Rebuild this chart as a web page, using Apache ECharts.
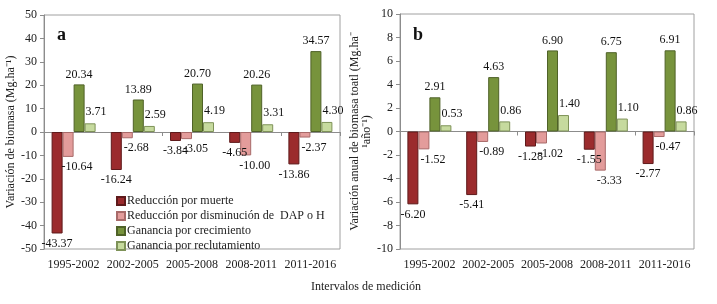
<!DOCTYPE html>
<html>
<head>
<meta charset="utf-8">
<script src="https://cdn.jsdelivr.net/npm/echarts@6/dist/echarts.min.js"></script>
<style>html,body{margin:0;padding:0;background:#fff;}#c{width:717px;height:304px;}</style>
</head>
<body>
<div id="c"></div>
<script>
var categories = ['1995-2002', '2002-2005', '2005-2008', '2008-2011', '2011-2016'];
var seriesNames = ['Reducción por muerte', 'Reducción por disminución de  DAP o H', 'Ganancia por crecimiento', 'Ganancia por reclutamiento'];
// Panel a: Variación de biomasa (Mg.ha-1)
var aMuerte = [-43.37, -16.24, -3.84, -4.65, -13.86];
var aDisminucion = [-10.64, -2.68, -3.05, -10.00, -2.37];
var aCrecimiento = [20.34, 13.89, 20.70, 20.26, 34.57];
var aReclutamiento = [3.71, 2.59, 4.19, 3.31, 4.30];
// Panel b: Variación anual de biomasa total (Mg.ha-1 año-1)
var bMuerte = [-6.20, -5.41, -1.28, -1.55, -2.77];
var bDisminucion = [-1.52, -0.89, -1.02, -3.33, -0.47];
var bCrecimiento = [2.91, 4.63, 6.90, 6.75, 6.91];
var bReclutamiento = [0.53, 0.86, 1.40, 1.10, 0.86];

var FONT = 'Liberation Serif';
var colors = ['#9B2B2D', '#E39C9B', '#77933C', '#C6DA9E'];
var borders = ['#5E1A1B', '#A86A69', '#4F6228', '#7E9258'];
var labelCfg = [
  {position: 'bottom', offset: [0, 0]},
  {position: 'bottom', offset: [9, 0]},
  {position: 'top', offset: [0, 0]},
  {position: 'top', offset: [6, -1]}
];

function mkSeries(name, data, idx, panel) {
  return {
    name: name, type: 'bar', data: data,
    xAxisIndex: panel * 2, yAxisIndex: panel,
    barWidth: 11, barGap: '0%',
    itemStyle: {color: colors[idx], borderColor: borders[idx], borderWidth: 1},
    label: {
      show: true, position: labelCfg[idx].position, offset: labelCfg[idx].offset,
      distance: 4,
      fontFamily: FONT, fontSize: 12, color: '#111',
      formatter: function (p) { return p.value.toFixed(2); }
    }
  };
}

function catAxes(gridIndex) {
  return [
    {
      type: 'category', data: categories, gridIndex: gridIndex, position: 'bottom',
      axisLine: {show: false, onZero: false}, axisTick: {show: false},
      axisLabel: {fontFamily: FONT, fontSize: 12, color: '#222', margin: 10, interval: 0}
    },
    {
      type: 'category', data: categories, gridIndex: gridIndex, position: 'bottom',
      axisLine: {show: true, onZero: true, lineStyle: {color: '#8c8c8c', width: 1}},
      axisTick: {show: true, length: 4, lineStyle: {color: '#8c8c8c'}},
      axisLabel: {show: false}
    }
  ];
}

function valAxis(gridIndex, min, max, interval, name, nameGap) {
  return {
    type: 'value', gridIndex: gridIndex, min: min, max: max, interval: interval,
    axisLine: {show: true, lineStyle: {color: '#8c8c8c'}},
    axisTick: {show: true, length: 4, lineStyle: {color: '#8c8c8c'}},
    axisLabel: {fontFamily: FONT, fontSize: 12, color: '#222', margin: 7},
    splitLine: {show: false},
    name: name, nameLocation: 'middle', nameGap: nameGap,
    nameTextStyle: {fontFamily: FONT, fontSize: 12, color: '#222', lineHeight: 12}
  };
}

var chart = echarts.init(document.getElementById('c'));
chart.setOption({
  animation: false,
  backgroundColor: '#fff',
  grid: [
    {left: 44, top: 15, width: 296, height: 234, show: true, borderColor: '#a0a0a0', borderWidth: 1},
    {left: 400, top: 14, width: 294, height: 235, show: true, borderColor: '#a0a0a0', borderWidth: 1}
  ],
  xAxis: catAxes(0).concat(catAxes(1)),
  yAxis: [
    valAxis(0, -50, 50, 10, 'Variación de biomasa (Mg.ha⁻¹)', 25),
    valAxis(1, -10, 10, 2, 'Variación anual de biomasa toatl (Mg.ha⁻\n¹año⁻¹)', 27)
  ],
  legend: {
    data: seriesNames, orient: 'vertical', left: 111, top: 189,
    itemWidth: 8, itemHeight: 8, itemGap: 1,
    icon: 'rect',
    textStyle: {fontFamily: FONT, fontSize: 12, color: '#222', lineHeight: 14, padding: [0, 0, 0, -3]}
  },
  graphic: [
    {type: 'text', left: 57, top: 26, style: {text: 'a', font: 'bold 18px "Liberation Serif"', fill: '#111'}},
    {type: 'text', left: 413, top: 26, style: {text: 'b', font: 'bold 18px "Liberation Serif"', fill: '#111'}},
    {type: 'text', x: 366, y: 287, style: {text: 'Intervalos de medición', font: '12px "Liberation Serif"', fill: '#222', align: 'center', verticalAlign: 'middle'}}
  ],
  series: [
    mkSeries(seriesNames[0], aMuerte, 0, 0),
    mkSeries(seriesNames[1], aDisminucion, 1, 0),
    mkSeries(seriesNames[2], aCrecimiento, 2, 0),
    mkSeries(seriesNames[3], aReclutamiento, 3, 0),
    mkSeries(seriesNames[0], bMuerte, 0, 1),
    mkSeries(seriesNames[1], bDisminucion, 1, 1),
    mkSeries(seriesNames[2], bCrecimiento, 2, 1),
    mkSeries(seriesNames[3], bReclutamiento, 3, 1)
  ]
});
</script>
</body>
</html>
